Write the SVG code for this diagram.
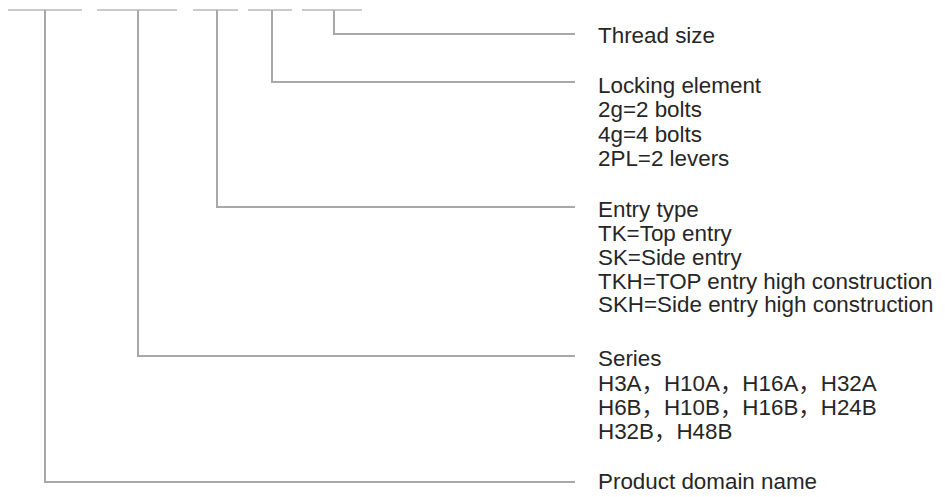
<svg xmlns="http://www.w3.org/2000/svg" width="945" height="497" viewBox="0 0 945 497">
<style>
.ln{fill:none;stroke:#a8a8a8;stroke-width:2}
.tp{fill:none;stroke:#b8b8b8;stroke-width:1.5}
text{font-family:"Liberation Sans","Noto Sans CJK SC",Arial,sans-serif;font-size:22.4px;fill:#262626}
</style>
<rect width="945" height="497" fill="#ffffff"/>
<g id="code-segments">
<line class="tp" x1="8" y1="10" x2="82" y2="10"/>
<line class="tp" x1="97" y1="10" x2="177" y2="10"/>
<line class="tp" x1="193" y1="10" x2="238" y2="10"/>
<line class="tp" x1="248" y1="10" x2="292" y2="10"/>
<line class="tp" x1="302" y1="10" x2="362" y2="10"/>
</g>
<g id="connectors">
<polyline class="ln" points="334,10 334,34 575,34"/>
<polyline class="ln" points="272,10 272,82 575,82"/>
<polyline class="ln" points="217,10 217,207 575,207"/>
<polyline class="ln" points="138,10 138,356 575,356"/>
<polyline class="ln" points="45,10 45,482 575,482"/>
</g>
<g id="thread-size">
<text x="598" y="43">Thread size</text>
</g>
<g id="locking-element">
<text x="598" y="93">Locking element</text>
<text x="598" y="117">2g=2 bolts</text>
<text x="598" y="141.5">4g=4 bolts</text>
<text x="598" y="166">2PL=2 levers</text>
</g>
<g id="entry-type">
<text x="598" y="217">Entry type</text>
<text x="598" y="241">TK=Top entry</text>
<text x="598" y="265">SK=Side entry</text>
<text x="598" y="288.5">TKH=TOP entry high construction</text>
<text x="598" y="312">SKH=Side entry high construction</text>
</g>
<g id="series">
<text x="598" y="366">Series</text>
<text x="598" y="390.5">H3A，H10A，H16A，H32A</text>
<text x="598" y="414.5">H6B，H10B，H16B，H24B</text>
<text x="598" y="439">H32B，H48B</text>
</g>
<g id="product-domain">
<text x="598" y="489">Product domain name</text>
</g>
</svg>
